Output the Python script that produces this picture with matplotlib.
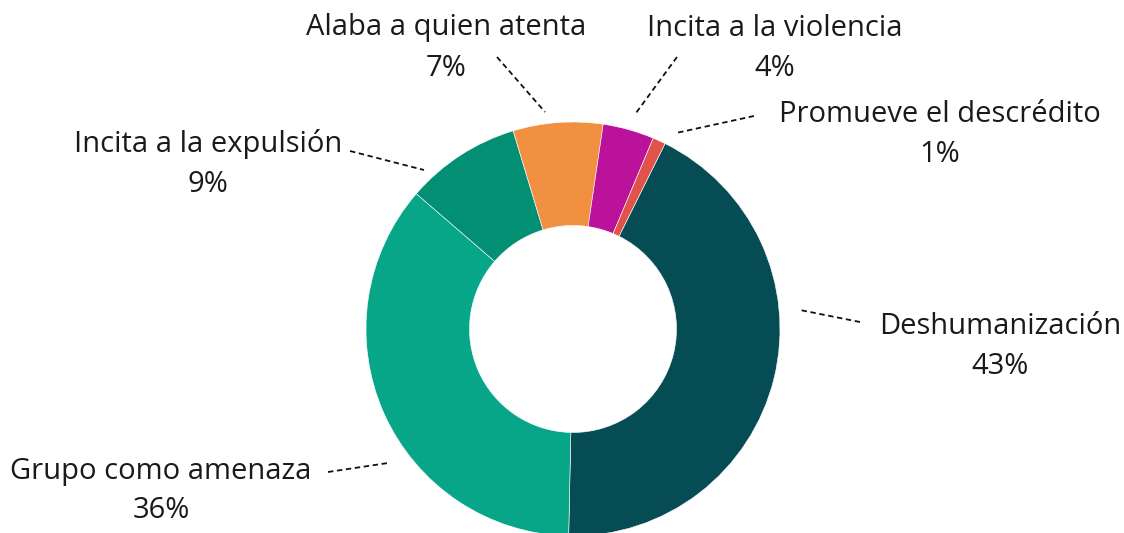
import matplotlib
matplotlib.use("Agg")
import matplotlib.pyplot as plt
import numpy as np

categories = ["Deshumanización", "Grupo como amenaza", "Incita a la expulsión",
              "Alaba a quien atenta", "Incita a la violencia", "Promueve el descrédito"]
values = [43, 36, 9, 7, 4, 1]
pct_labels = ["43%", "36%", "9%", "7%", "4%", "1%"]
colors = ["#064c54", "#07a688", "#038f74", "#f09040", "#bb129b", "#e0524a"]

# layout (pixel coordinates, y measured from top)
label_pos = [(1000, 347), (161, 491), (208, 164), (446, 48), (775, 48), (940, 134)]
line_start = [(860, 322), (328, 472), (350, 151), (497, 57), (677, 57), (754, 116)]
line_end = [(800, 310), (388, 463), (424, 170), (545, 112), (636, 113), (676, 133)]

W, H = 1124, 533
plt.rcParams['font.family'] = ['Open Sans', 'DejaVu Sans']
fig = plt.figure(figsize=(W / 100, H / 100), dpi=100)
ax = fig.add_axes([0, 0, 1, 1])

cx, cy, R = 573, H - 329, 207
ax.pie(values, colors=colors, startangle=63.6, counterclock=False,
       center=(cx, cy), radius=R, frame=True,
       wedgeprops=dict(width=R * 0.5, edgecolor='white', linewidth=0.4))
ax.set_xlim(0, W)
ax.set_ylim(0, H)
ax.set_aspect('equal')
ax.axis('off')

for cat, pl, (lx, ly), (sx, sy), (ex, ey) in zip(categories, pct_labels, label_pos, line_start, line_end):
    ax.text(lx, H - ly, f"{cat}\n{pl}", ha='center', va='center', fontsize=21,
            color='#1a1a1a', linespacing=1.5)
    ax.plot([sx, ex], [H - sy, H - ey], color='#111111', lw=1.3, ls=(0, (3, 2)))

fig.savefig("out.png", dpi=100)
